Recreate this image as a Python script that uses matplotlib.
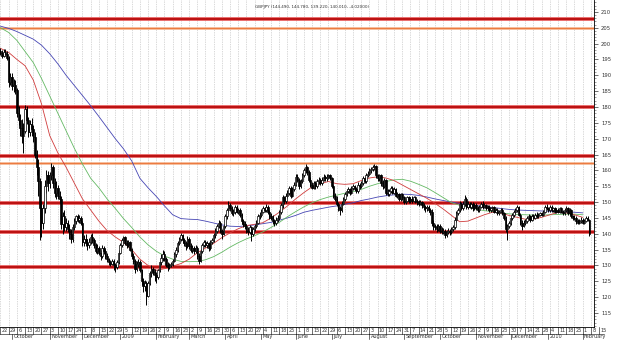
import matplotlib
matplotlib.use("Agg")
import matplotlib.pyplot as plt
import numpy as np
import pandas as pd

# daily closes, highs, lows (one row = two weeks, Mon..Fri), from 22 Sep 2008
first_open = 197.8
closes = [
    197.0, 196.2, 197.5, 196.8, 195.5,   188.0, 189.5, 186.5, 187.0, 185.5,
    178.0, 176.0, 173.5, 171.0, 172.5,   179.5, 176.0, 172.0, 174.5, 173.0,
    170.5, 165.0, 161.0, 156.5, 148.0,   143.5, 148.0, 155.0, 158.5, 156.0,
    158.5, 161.0, 156.0, 153.0, 154.5,   152.0, 151.0, 143.0, 145.5, 142.0,
    143.5, 141.5, 140.0, 138.5, 142.0,   144.0, 145.5, 144.5, 145.0, 143.5,
    137.5, 138.5, 137.0, 136.5, 137.5,   139.0, 138.0, 136.5, 134.5, 135.5,
    134.0, 133.0, 135.5, 134.5, 133.0,   132.0, 131.0, 130.5, 131.5, 130.0,
    129.5, 131.0, 134.0, 136.5, 138.0,   139.0, 137.0, 136.5, 137.5, 135.0,
    133.0, 131.5, 129.0, 130.5, 131.0,   128.5, 125.0, 123.5, 124.5, 120.5,
    124.5, 127.5, 129.0, 128.0, 127.0,   126.5, 128.5, 131.0, 132.5, 133.5,
    132.0, 130.0, 129.5, 130.0, 130.5,   131.5, 133.5, 135.0, 137.0, 138.5,
    139.5, 138.0, 137.0, 136.0, 138.5,   136.0, 135.0, 135.5, 134.5, 135.5,
    133.0, 131.5, 134.5, 136.5, 137.5,   136.5, 137.0, 135.5, 137.5, 138.0,
    139.5, 141.0, 142.5, 143.5, 141.0,   140.0, 142.5, 145.5, 147.5, 149.0,
    148.0, 146.5, 147.0, 148.5, 147.0,   147.5, 146.0, 144.0, 143.0, 142.5,
    141.0, 140.5, 142.0, 140.0, 141.5,   142.5, 143.5, 145.5, 146.0, 147.0,
    148.0, 147.5, 148.5, 147.0, 145.5,   145.0, 144.0, 143.5, 144.5, 145.0,
    147.0, 149.0, 151.5, 150.5, 152.0,   153.0, 154.5, 152.0, 154.0, 155.5,
    158.0, 157.0, 155.0, 156.5, 158.5,   160.0, 161.0, 159.5, 157.0, 155.5,
    154.5, 156.0, 155.0, 156.5, 157.0,   156.0, 157.0, 158.0, 157.5, 158.0,
    158.5, 157.5, 155.0, 152.0, 151.0,   149.5, 148.0, 147.5, 149.5, 151.0,
    152.5, 153.5, 154.0, 153.0, 154.5,   155.0, 154.0, 153.5, 155.5, 155.0,
    156.0, 157.5, 156.5, 158.5, 159.0,   160.0, 160.5, 161.0, 161.5, 158.5,
    157.5, 158.5, 156.0, 155.0, 157.0,   153.0, 152.5, 153.5, 154.5, 153.0,
    154.0, 152.0, 152.5, 151.0, 152.5,   151.5, 150.0, 150.5, 151.5, 150.5,
    151.0, 150.5, 151.5, 150.5, 150.0,   149.5, 150.0, 149.0, 148.5, 148.0,
    148.5, 147.5, 147.0, 143.5, 142.5,   142.0, 141.5, 142.5, 141.0, 140.5,
    141.0, 139.5, 140.5, 141.0, 140.5,   141.5, 142.0, 144.5, 146.5, 147.5,
    149.5, 148.0, 149.5, 151.0, 148.5,   149.5, 148.5, 149.5, 148.0, 149.0,
    148.0, 147.5, 148.5, 149.5, 148.5,   149.0, 148.0, 148.5, 147.5, 148.0,
    148.5, 147.0, 147.5, 146.5, 147.0,   147.5, 146.5, 145.0, 141.5, 142.5,
    143.5, 145.0, 146.0, 147.0, 147.5,   148.5, 146.0, 143.5, 142.5, 143.5,
    144.0, 145.0, 145.5, 144.5, 145.5,   145.0, 146.0, 145.5, 146.0, 146.5,
    146.0, 147.0, 148.5, 148.0, 147.5,   148.5, 147.5, 148.0, 147.0, 147.5,
    147.0, 148.0, 147.0, 146.5, 147.5,   148.0, 146.5, 147.5, 145.5, 145.0,
    145.0, 144.0, 143.5, 144.0, 144.5,   143.5, 144.0, 145.0, 144.49, 140.01,
]
highs = [
    198.6, 197.9, 198.3, 198.2, 197.6,   196.2, 190.6, 190.8, 188.9, 188.6,
    186.0, 180.2, 177.8, 176.2, 175.0,   180.6, 180.2, 177.0, 176.0, 176.5,
    174.2, 172.0, 166.5, 163.5, 157.5,   150.5, 149.5, 157.0, 160.2, 159.8,
    159.5, 162.3, 161.8, 157.5, 156.8,   155.5, 153.5, 152.0, 147.0, 147.5,
    145.0, 144.5, 143.0, 141.5, 143.0,   145.0, 146.0, 146.2, 145.8, 145.6,
    144.0, 139.5, 139.8, 138.5, 138.8,   140.0, 140.2, 138.8, 137.2, 136.8,
    136.2, 135.0, 136.5, 136.0, 135.2,   134.0, 132.5, 131.8, 132.2, 132.0,
    130.8, 131.8, 134.8, 137.2, 138.8,   139.4, 139.3, 138.0, 138.2, 137.8,
    135.5, 133.8, 132.2, 131.5, 132.0,   131.8, 129.0, 126.0, 125.5, 125.2,
    125.0, 128.2, 130.0, 129.5, 128.8,   128.0, 129.0, 131.5, 133.5, 134.8,
    134.5, 132.8, 131.0, 130.8, 131.2,   132.0, 134.2, 135.8, 137.8, 139.0,
    140.3, 140.0, 138.8, 137.8, 139.2,   139.0, 137.0, 136.5, 136.2, 136.5,
    136.0, 133.8, 135.2, 137.2, 138.2,   138.0, 137.8, 137.5, 138.2, 138.8,
    140.2, 141.8, 143.2, 144.5, 144.0,   141.5, 143.0, 146.2, 148.2, 150.3,
    149.8, 148.8, 147.8, 149.2, 149.0,   148.2, 148.0, 146.5, 144.8, 144.0,
    143.2, 142.0, 142.8, 142.5, 142.2,   143.0, 144.2, 146.2, 146.8, 147.8,
    148.8, 148.5, 149.4, 149.0, 147.5,   146.5, 145.8, 144.8, 145.2, 145.8,
    147.5, 149.8, 152.2, 152.0, 152.8,   153.8, 155.2, 155.0, 154.8, 156.2,
    158.8, 158.8, 157.5, 157.2, 159.2,   160.8, 162.0, 161.5, 160.2, 158.0,
    156.2, 156.8, 156.5, 157.2, 157.8,   157.5, 157.8, 158.8, 158.5, 158.8,
    159.0, 159.0, 158.0, 155.5, 152.8,   151.8, 150.0, 148.8, 150.2, 151.5,
    153.2, 154.2, 154.8, 154.5, 155.2,   155.8, 155.5, 154.8, 156.2, 156.0,
    156.8, 158.2, 158.0, 159.2, 159.8,   160.8, 161.2, 161.8, 162.0, 161.8,
    159.0, 159.0, 159.0, 157.0, 157.5,   157.2, 154.2, 154.0, 155.2, 155.0,
    154.8, 154.5, 153.2, 153.0, 153.0,   153.0, 152.0, 151.0, 152.0, 152.0,
    151.6, 151.8, 152.0, 152.0, 151.0,   150.6, 150.6, 150.5, 149.8, 149.2,
    149.2, 149.0, 148.2, 147.7, 144.5,   143.2, 143.0, 143.2, 143.0, 142.0,
    141.8, 141.5, 141.2, 141.8, 141.6,   142.2, 142.8, 145.2, 147.2, 148.2,
    150.2, 150.0, 150.2, 152.3, 151.5,   150.2, 150.0, 150.0, 150.0, 149.8,
    149.8, 148.8, 149.0, 150.0, 150.2,   149.6, 149.5, 149.0, 149.0, 148.6,
    148.8, 148.8, 148.0, 148.0, 147.5,   148.0, 148.0, 147.0, 145.5, 143.2,
    144.0, 145.5, 146.5, 147.6, 148.0,   149.0, 148.8, 146.5, 144.2, 144.2,
    144.8, 145.5, 146.2, 146.0, 146.2,   146.2, 146.5, 146.8, 146.5, 146.8,
    147.0, 147.5, 149.0, 149.4, 148.6,   149.0, 149.0, 148.6, 148.4, 148.0,
    148.0, 148.5, 148.6, 147.6, 148.0,   148.8, 148.5, 148.0, 147.8, 146.0,
    145.8, 145.5, 144.6, 144.8, 145.2,   145.0, 144.6, 145.5, 145.5, 144.78,
]
lows = [
    196.3, 195.4, 195.8, 196.0, 194.8,   186.2, 186.9, 185.4, 184.8, 184.2,
    177.0, 174.2, 171.0, 168.5, 165.5,   171.8, 174.5, 170.5, 170.8, 171.0,
    169.0, 163.8, 158.5, 152.0, 138.0,   139.0, 141.5, 146.5, 153.0, 153.5,
    154.5, 157.0, 154.5, 151.5, 151.0,   151.0, 149.8, 141.5, 140.0, 141.0,
    140.8, 140.5, 138.5, 137.0, 137.5,   141.2, 143.0, 143.8, 143.5, 142.8,
    136.0, 136.2, 136.0, 135.0, 135.5,   136.8, 137.0, 135.5, 133.8, 133.5,
    133.2, 131.8, 132.5, 133.5, 132.0,   131.0, 130.0, 129.8, 130.0, 128.5,
    128.0, 128.8, 130.5, 133.5, 135.8,   137.0, 136.5, 135.5, 135.8, 134.5,
    132.0, 130.5, 127.5, 128.2, 129.5,   127.8, 124.0, 121.5, 122.0, 117.5,
    120.0, 123.8, 126.5, 127.0, 125.0,   124.5, 125.8, 128.0, 130.2, 131.5,
    131.5, 129.5, 128.4, 128.8, 129.5,   129.8, 131.0, 132.8, 134.2, 136.5,
    137.8, 137.2, 136.0, 134.8, 135.5,   135.2, 134.2, 134.0, 133.5, 133.8,
    132.2, 130.6, 131.0, 133.8, 135.8,   135.8, 135.5, 134.5, 135.0, 136.8,
    137.5, 138.8, 140.2, 141.8, 140.2,   138.5, 139.5, 141.8, 144.8, 146.8,
    147.2, 145.8, 145.5, 146.2, 146.5,   146.2, 145.2, 143.2, 142.0, 141.5,
    140.2, 139.5, 139.8, 137.7, 139.2,   140.8, 141.8, 143.0, 144.8, 145.2,
    146.5, 146.8, 147.0, 146.2, 144.8,   144.2, 143.2, 142.6, 142.8, 143.8,
    144.5, 146.2, 148.2, 149.5, 149.8,   151.2, 152.2, 151.2, 151.5, 153.5,
    155.0, 156.2, 154.2, 154.5, 156.0,   157.8, 159.2, 158.5, 156.2, 154.8,
    154.0, 154.0, 154.2, 154.5, 155.8,   155.5, 155.5, 156.5, 156.8, 156.8,
    157.2, 157.0, 154.5, 151.2, 150.2,   148.8, 147.2, 145.8, 146.8, 149.0,
    150.5, 151.8, 152.8, 152.2, 152.5,   153.8, 153.5, 152.8, 153.0, 154.2,
    154.5, 155.5, 156.0, 156.0, 157.8,   158.5, 159.2, 159.8, 160.2, 157.5,
    156.8, 156.8, 155.2, 154.0, 154.5,   152.2, 151.8, 151.8, 153.0, 152.5,
    152.5, 151.5, 151.2, 150.2, 150.5,   150.8, 149.4, 149.5, 150.0, 149.8,
    149.8, 149.8, 150.0, 149.8, 149.2,   148.8, 149.0, 148.2, 147.5, 147.0,
    147.2, 146.8, 146.0, 142.5, 141.3,   141.2, 140.5, 140.8, 140.2, 139.8,
    139.8, 138.7, 139.0, 139.8, 139.5,   140.0, 140.8, 141.5, 143.8, 145.8,
    147.0, 147.5, 147.5, 148.8, 147.8,   147.8, 148.0, 147.8, 147.2, 147.5,
    147.5, 146.8, 146.8, 148.0, 147.8,   148.0, 147.5, 147.5, 146.8, 147.0,
    147.2, 146.5, 146.5, 145.8, 146.0,   146.5, 146.0, 144.5, 140.5, 138.0,
    141.8, 142.8, 144.2, 145.2, 146.2,   147.0, 145.5, 142.8, 141.3, 142.0,
    142.8, 143.5, 144.2, 143.8, 144.0,   144.5, 144.8, 145.0, 145.0, 145.6,
    145.5, 145.6, 146.6, 147.4, 147.0,   147.0, 147.0, 147.0, 146.5, 146.6,
    146.5, 146.6, 146.5, 146.0, 146.0,   147.0, 146.0, 146.0, 145.0, 144.2,
    144.2, 143.2, 143.0, 143.0, 143.5,   143.0, 143.0, 143.6, 144.0, 139.22,
]

# moving averages read at each Monday (weeks 0..71)
ma_red = [
    198.5, 197.2, 195.0, 193.0, 188.5, 181.0, 171.0, 165.5, 161.0, 156.0,
    151.0, 147.5, 144.0, 141.0, 139.0, 137.3, 135.0, 132.0, 130.0, 128.5,
    129.0, 129.8, 130.6, 132.0, 134.0, 135.5, 137.0, 138.8, 140.3, 141.6,
    142.6, 143.0, 143.5, 145.0, 146.8, 148.8, 151.0, 153.0, 154.8, 155.8,
    156.5, 155.8, 155.6, 155.8, 156.8, 157.6, 158.0, 157.6, 156.8, 155.4,
    154.0, 152.6, 151.2, 149.6, 147.8, 145.8, 143.8, 144.0, 145.0, 146.0,
    146.8, 146.6, 145.8, 145.2, 144.6, 144.6, 145.2, 146.0, 146.8, 146.6,
    146.0, 145.2,
]
ma_green = [
    205.0, 203.5, 201.0, 197.5, 194.0, 189.0, 183.5, 178.0, 172.5, 167.0,
    162.0, 157.5, 154.5, 151.0, 148.0, 144.8, 142.0, 139.0, 136.5, 134.5,
    133.0, 132.0, 131.3, 131.2, 131.3, 131.8, 132.8, 134.2, 135.8, 137.2,
    138.4, 139.4, 140.6, 142.0, 143.6, 145.4, 147.0, 148.5, 149.8, 150.8,
    151.6, 152.2, 152.8, 153.3, 154.0, 155.0, 155.8, 156.5, 157.0, 157.2,
    156.6, 155.6, 154.5, 153.0, 151.4, 149.8, 149.0, 148.4, 147.8, 147.3,
    147.0, 146.6, 146.3, 146.1, 146.0, 145.9, 145.9, 146.0, 146.1, 146.2,
    146.2, 146.0,
]
ma_blue = [
    205.5, 204.8, 203.8, 202.6, 201.4, 199.5, 196.8, 193.6, 190.0, 186.8,
    183.6, 180.4, 177.0, 173.5, 170.0, 166.8, 163.0, 157.5, 154.5, 151.8,
    148.8, 146.0, 144.8, 144.6, 144.5, 144.0, 143.4, 142.8, 142.4, 142.3,
    142.5, 142.8, 143.2, 143.6, 144.3, 145.0, 145.8, 146.8, 147.4, 147.9,
    148.4, 148.8, 149.3, 149.8, 150.5, 151.0, 151.6, 152.0, 152.3, 152.5,
    152.4, 152.1, 151.6, 151.0, 150.5, 150.0, 149.6, 149.2, 148.9, 148.6,
    148.3, 148.0, 147.7, 147.5, 147.4, 147.3, 147.2, 147.1, 147.0, 146.9,
    146.8, 146.6,
]

red_levels = [207.7, 180.0, 164.6, 149.8, 140.6, 129.6]
orange_levels = [204.8, 162.4]
title = "GBPJPY (144.490, 144.780, 139.220, 140.010, -4.02000)"

dates = pd.bdate_range("2008-09-22", periods=len(closes))
opens = [first_open] + closes[:-1]
idx = np.arange(len(closes))

fig = plt.figure(figsize=(6.25, 3.4), dpi=100)
ax = fig.add_axes([0, 13 / 340, 594 / 625, 327 / 340])
ax.set_xlim(-0.3, 361.9)
ax.set_ylim(110.6, 213.75)

# weekly dotted grid
n_weeks = 74
week_pos = np.arange(n_weeks) * 5
ax.vlines(week_pos, 110, 214, colors="#b4b4b4", linewidth=0.5,
          linestyles=(0, (1, 1.5)), zorder=0)

# support / resistance lines
for lv in red_levels:
    ax.axhline(lv, color="#e65050", linewidth=2.6, zorder=1)
    ax.axhline(lv, color="#b00000", linewidth=1.1, zorder=1)
for lv in orange_levels:
    ax.axhline(lv, color="#f4aa80", linewidth=1.8, zorder=1)
    ax.axhline(lv, color="#ec7a40", linewidth=0.7, zorder=1)

# moving averages
ma_x = np.arange(len(ma_red)) * 5
ax.plot(ma_x, ma_blue, color="#4646b4", linewidth=0.6, zorder=2)
ax.plot(ma_x, ma_green, color="#64b964", linewidth=0.6, zorder=2)
ax.plot(ma_x, ma_red, color="#d03c3c", linewidth=0.6, zorder=2)

# candles
o = np.array(opens)
c = np.array(closes)
ax.vlines(idx, lows, highs, colors="black", linewidth=0.7, zorder=3)
up = c >= o
ax.bar(idx[up], c[up] - o[up], bottom=o[up], width=0.9, color="white",
       edgecolor="black", linewidth=0.5, zorder=4)
ax.bar(idx[~up], o[~up] - c[~up], bottom=c[~up], width=0.9, color="black",
       edgecolor="black", linewidth=0.5, zorder=4)

# right price axis
ax.yaxis.tick_right()
ax.set_yticks(np.arange(115, 211, 5))
ax.set_yticks(np.arange(111, 214, 1), minor=True)
ax.tick_params(axis="y", which="major", labelsize=3.8, length=3, width=0.5,
               colors="#333333", pad=2)
ax.tick_params(axis="y", which="minor", length=1.5, width=0.4, colors="#555555")
ax.set_xticks([])
for s in ["left", "top"]:
    ax.spines[s].set_visible(False)
ax.spines["right"].set_linewidth(0.6)
ax.spines["bottom"].set_linewidth(0.6)

# date strip under the chart
tr = ax.get_xaxis_transform()
start = pd.Timestamp("2008-09-22")
for w in range(n_weeks):
    d = start + pd.Timedelta(days=7 * w)
    x = w * 5
    ax.plot([x, x], [0, -0.021], transform=tr, color="black", linewidth=0.4,
            clip_on=False)
    ax.text(x + 0.8, -0.003, str(d.day), transform=tr, fontsize=3.6,
            ha="left", va="top", color="#333333", clip_on=False)
ax.plot([-0.3, 368], [-0.021, -0.021], transform=tr, color="black",
        linewidth=0.4, clip_on=False)

month_names = {2: "February", 3: "March", 4: "April", 5: "May",
               6: "June", 7: "July", 8: "August", 9: "September",
               10: "October", 11: "November", 12: "December"}
for i in range(1, len(dates)):
    if dates[i].month != dates[i - 1].month:
        m = dates[i].month
        label = str(dates[i].year) if m == 1 else month_names[m]
        ax.plot([i, i], [-0.021, -0.036], transform=tr, color="black",
                linewidth=0.4, clip_on=False)
        ax.text(i + 0.8, -0.022, label, transform=tr, fontsize=3.6,
                ha="left", va="top", color="#333333", clip_on=False)

fig.text(0.5, 0.985, title, fontsize=3.0, ha="center", va="top",
         color="#333333")

fig.savefig("out.png", dpi=100)
